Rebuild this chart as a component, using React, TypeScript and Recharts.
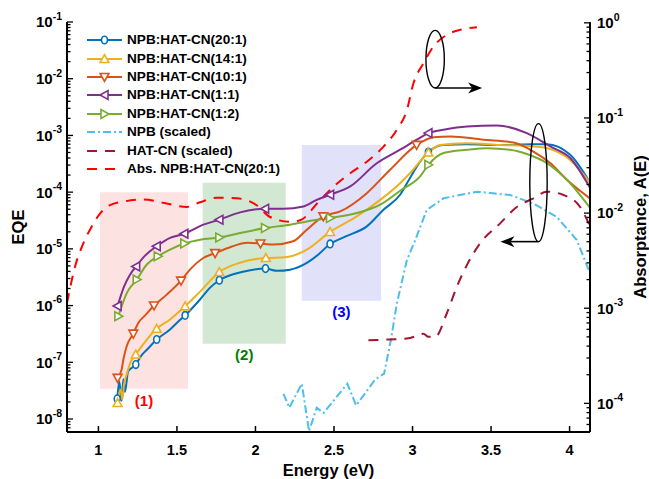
import React from "react";
import {
  LineChart,
  Line,
  XAxis,
  YAxis,
  ReferenceArea,
  ReferenceDot,
  Legend,
} from "recharts";

const FONT = "Arial, 'Liberation Sans', Helvetica, sans-serif";

// EQE vs photon energy, one set per blend ratio (energy in eV)
const e20 = [1.12, 1.133, 1.148, 1.159, 1.169, 1.189, 1.238, 1.278, 1.31, 1.371, 1.456, 1.507, 1.552, 1.647, 1.711, 1.77, 1.87, 1.966, 2.064, 2.138, 2.22, 2.327, 2.399, 2.475, 2.571, 2.709, 2.815, 2.921, 2.985, 3.048, 3.101, 3.195, 3.346, 3.558, 3.768, 3.855, 4.004, 4.131];
const q20 = [2.27e-8, 4.6e-8, 2.1e-8, 5.0e-8, 3.0e-8, 6.9e-8, 9.1e-8, 1.37e-7, 1.68e-7, 2.52e-7, 3.8e-7, 5.2e-7, 6.7e-7, 1.28e-6, 2.07e-6, 2.8e-6, 3.65e-6, 4.2e-6, 4.5e-6, 4.1e-6, 4.3e-6, 5.65e-6, 7.9e-6, 1.22e-5, 1.64e-5, 2.49e-5, 4.9e-5, 9.0e-5, 1.8e-4, 3.43e-4, 5.1e-4, 6.8e-4, 7.0e-4, 6.75e-4, 7.0e-4, 7.0e-4, 4.55e-4, 1.45e-4];
const m20 = [1.12, 1.238, 1.371, 1.552, 1.77, 2.064, 2.475, 3.101];

const e14 = [1.122, 1.142, 1.152, 1.163, 1.18, 1.201, 1.238, 1.297, 1.371, 1.456, 1.552, 1.647, 1.77, 1.902, 2.066, 2.189, 2.327, 2.475, 2.645, 2.794, 2.921, 2.985, 3.101, 3.176, 3.346, 3.558, 3.77, 3.855, 4.004, 4.131];
const q14 = [1.92e-8, 3.3e-8, 2.2e-8, 4.07e-8, 6.1e-8, 9.5e-8, 1.37e-7, 2.3e-7, 3.9e-7, 5.7e-7, 9.7e-7, 1.76e-6, 3.9e-6, 5.7e-6, 6.9e-6, 7.1e-6, 9.7e-6, 1.99e-5, 3.74e-5, 7.3e-5, 1.44e-4, 2.17e-4, 5.0e-4, 6.8e-4, 7.3e-4, 6.8e-4, 6.4e-4, 6.0e-4, 3.7e-4, 1.46e-4];
const m14 = [1.122, 1.238, 1.371, 1.552, 1.77, 2.066, 2.475, 3.101];

const e10 = [1.122, 1.148, 1.159, 1.18, 1.222, 1.254, 1.297, 1.354, 1.435, 1.526, 1.583, 1.668, 1.743, 1.838, 1.95, 2.032, 2.114, 2.24, 2.327, 2.432, 2.539, 2.709, 2.857, 3.026, 3.133, 3.239, 3.452, 3.643, 3.77, 3.877, 3.983, 4.131];
const q10 = [5.3e-8, 7.5e-8, 1.12e-7, 1.92e-7, 3.2e-7, 4.95e-7, 6.7e-7, 1.0e-6, 1.56e-6, 2.75e-6, 4.3e-6, 6.9e-6, 8.4e-6, 1.07e-5, 1.28e-5, 1.24e-5, 1.19e-5, 1.36e-5, 2.18e-5, 3.73e-5, 4.57e-5, 9.6e-5, 2.48e-4, 6.8e-4, 9.3e-4, 9.6e-4, 8.4e-4, 7.5e-4, 5.2e-4, 3.25e-4, 1.65e-4, 7.7e-5];
const m10 = [1.122, 1.222, 1.354, 1.526, 1.743, 2.032, 2.432, 3.026];

const e11 = [1.122, 1.163, 1.201, 1.24, 1.297, 1.371, 1.456, 1.547, 1.668, 1.77, 1.902, 2.061, 2.178, 2.305, 2.39, 2.475, 2.603, 2.768, 2.921, 3.027, 3.101, 3.197, 3.346, 3.537, 3.728, 3.877, 4.004, 4.131];
const q11 = [9.8e-7, 2.16e-6, 3.5e-6, 4.9e-6, 7.6e-6, 1.11e-5, 1.56e-5, 1.85e-5, 2.67e-5, 3.27e-5, 4.4e-5, 5.1e-5, 5.1e-5, 5.6e-5, 7.3e-5, 9.0e-5, 1.26e-4, 3.16e-4, 5.6e-4, 8.4e-4, 1.1e-3, 1.26e-3, 1.44e-3, 1.49e-3, 1.1e-3, 6.4e-4, 4.0e-4, 1.18e-4];
const m11 = [1.122, 1.24, 1.371, 1.547, 1.77, 2.061, 2.475, 3.101];

const e12 = [1.127, 1.182, 1.244, 1.308, 1.378, 1.456, 1.547, 1.647, 1.77, 1.902, 2.061, 2.22, 2.327, 2.475, 2.645, 2.794, 2.921, 3.048, 3.101, 3.197, 3.346, 3.473, 3.622, 3.728, 3.855, 3.983, 4.131];
const q12 = [6.5e-7, 1.69e-6, 2.87e-6, 5.3e-6, 7.4e-6, 9.7e-6, 1.24e-5, 1.45e-5, 1.59e-5, 1.9e-5, 2.33e-5, 2.67e-5, 3.05e-5, 3.5e-5, 4.28e-5, 6.0e-5, 1.06e-4, 1.89e-4, 3.03e-4, 4.9e-4, 5.6e-4, 5.97e-4, 5.6e-4, 4.7e-4, 3.25e-4, 1.65e-4, 5.25e-5];
const m12 = [1.127, 1.244, 1.378, 1.547, 1.77, 2.061, 2.475, 3.101];

// absorptance (right axis)
const eNpb = [2.178, 2.216, 2.295, 2.341, 2.39, 2.433, 2.585, 2.641, 2.762, 2.819, 2.862, 2.9, 2.964, 3.017, 3.091, 3.197, 3.41, 3.622, 3.77, 3.919, 4.046, 4.131];
const aNpb = [1.26e-4, 9.0e-5, 1.61e-4, 5.1e-5, 9.0e-5, 7.9e-5, 1.61e-4, 9.5e-5, 1.78e-4, 2.05e-4, 4.6e-4, 1.12e-3, 3.2e-3, 5.2e-3, 1.08e-2, 1.43e-2, 1.68e-2, 1.55e-2, 1.26e-2, 9.1e-3, 5.2e-3, 2.32e-3];

const eHat = [2.719, 2.857, 2.964, 3.038, 3.069, 3.101, 3.144, 3.218, 3.282, 3.346, 3.43, 3.558, 3.664, 3.77, 3.855, 3.961, 4.067, 4.131];
const aHat = [4.6e-4, 4.7e-4, 4.8e-4, 5.2e-4, 5.4e-4, 5.0e-4, 5.0e-4, 8.8e-4, 1.68e-3, 2.84e-3, 4.8e-3, 7.8e-3, 1.16e-2, 1.43e-2, 1.68e-2, 1.55e-2, 1.16e-2, 7.2e-3];

const eAbs = [0.8, 0.851, 0.904, 0.957, 1.01, 1.074, 1.159, 1.286, 1.435, 1.562, 1.647, 1.753, 1.881, 2.008, 2.093, 2.22, 2.284, 2.411, 2.496, 2.603, 2.709, 2.815, 2.9, 2.964, 3.006, 3.07, 3.133, 3.219, 3.303, 3.41];
const aAbs = [1.13e-3, 2.73e-3, 4.81e-3, 7.2e-3, 9.9e-3, 1.21e-2, 1.32e-2, 1.39e-2, 1.26e-2, 1.16e-2, 1.3e-2, 1.45e-2, 1.43e-2, 1.21e-2, 9.1e-3, 8.1e-3, 8.4e-3, 1.37e-2, 1.89e-2, 2.62e-2, 3.47e-2, 4.99e-2, 7.5e-2, 0.121, 0.232, 0.377, 0.563, 0.748, 0.844, 0.9];

const xTicks = [1, 1.5, 2, 2.5, 3, 3.5, 4];
const eqeDecades = [-9, -8, -7, -6, -5, -4, -3, -2, -1];
const absDecades = [-5, -4, -3, -2, -1, 0];

const C20 = "#0072BD";
const C14 = "#EDB120";
const C10 = "#D95319";
const C11 = "#7E2F8E";
const C12 = "#77AC30";
const CNPB = "#4DBEEE";
const CHAT = "#A2142F";
const CABS = "#FF0000";

const EQE_DOMAIN = [5.9e-9, 0.1];
const ABS_DOMAIN = [5e-5, 1.02];

function rows(e: number[], v: number[], marks: number[] = []) {
  return e.map((x, i) => ({ x, y: v[i], m: marks.includes(x) }));
}

function logTicks(decades: number[], lo: number, hi: number) {
  const out: number[] = [];
  decades.forEach((d) => {
    for (let k = 1; k <= 9; k++) {
      const v = k * Math.pow(10, d);
      if (v >= lo * 0.999 && v <= hi * 1.001) out.push(v);
    }
  });
  return out;
}

function decadeOf(v: number) {
  const l = Math.log10(v);
  return Math.abs(l - Math.round(l)) < 1e-6 ? Math.round(l) : null;
}

function Sym({ shape, cx, cy, color }: { shape: string; cx: number; cy: number; color: string }) {
  const s = 4.4;
  const common = { fill: "#fff", stroke: color, strokeWidth: 1.6 };
  if (shape === "o") return <ellipse cx={cx} cy={cy} rx={3} ry={3.8} {...common} />;
  let d = "";
  if (shape === "up") d = `M${cx},${cy - s}L${cx + s},${cy + s * 0.8}L${cx - s},${cy + s * 0.8}Z`;
  if (shape === "down") d = `M${cx},${cy + s}L${cx + s},${cy - s * 0.8}L${cx - s},${cy - s * 0.8}Z`;
  if (shape === "left") d = `M${cx - s},${cy}L${cx + s * 0.8},${cy - s}L${cx + s * 0.8},${cy + s}Z`;
  if (shape === "right") d = `M${cx + s},${cy}L${cx - s * 0.8},${cy - s}L${cx - s * 0.8},${cy + s}Z`;
  return <path d={d} {...common} />;
}

function markerDot(shape: string, color: string) {
  return (p: any) => {
    const { cx, cy, payload, index } = p;
    if (!payload || !payload.m || cx == null || cy == null) return <g key={`n${index}`} />;
    return <Sym key={`m${index}`} shape={shape} cx={cx} cy={cy} color={color} />;
  };
}

const labelText = { fontFamily: FONT, fontWeight: "bold" as const, fill: "#000" };

function BottomTick(p: any) {
  const { x, y, payload } = p;
  return (
    <g>
      <line x1={x} x2={x} y1={y} y2={y - 6} stroke="#000" strokeWidth={1.5} />
      <text x={x} y={y + 23} textAnchor="middle" fontSize={14.5} {...labelText}>
        {payload.value}
      </text>
    </g>
  );
}

function TopTick(p: any) {
  const { x, y } = p;
  return <line x1={x} x2={x} y1={y} y2={y + 6} stroke="#000" strokeWidth={1.5} />;
}

function LeftTick(p: any) {
  const { x, y, payload } = p;
  const dec = decadeOf(payload.value);
  return (
    <g>
      <line x1={x} x2={x + (dec !== null ? 6 : 3.5)} y1={y} y2={y} stroke="#000" strokeWidth={1.3} />
      {dec !== null && (
        <text x={x - 5} y={y + 5.4} textAnchor="end" fontSize={15} {...labelText}>
          <tspan>10</tspan>
          <tspan dy={-7.5} fontSize={10.5}>{`-${Math.abs(dec)}`}</tspan>
        </text>
      )}
    </g>
  );
}

function RightTick(p: any) {
  const { x, y, payload } = p;
  const dec = decadeOf(payload.value);
  return (
    <g>
      <line x1={x} x2={x - (dec !== null ? 6 : 3.5)} y1={y} y2={y} stroke="#000" strokeWidth={1.3} />
      {dec !== null && (
        <text x={x + 7} y={y + 5.4} textAnchor="start" fontSize={15} {...labelText}>
          <tspan>10</tspan>
          <tspan dy={-7.5} fontSize={10.5}>{dec === 0 ? "0" : `-${Math.abs(dec)}`}</tspan>
        </text>
      )}
    </g>
  );
}

// ellipse + arrow telling which axis a group belongs to
function AxisPointer({ cx, cy, rx, ry, dir, len }: { cx: number; cy: number; rx: number; ry: number; dir: number; len: number }) {
  const by = cy + ry;
  const tip = cx + dir * len;
  const base = tip - dir * 14;
  const notch = tip - dir * 10;
  return (
    <g>
      <ellipse cx={cx} cy={cy} rx={rx} ry={ry} fill="none" stroke="#000" strokeWidth={1.4} />
      <line x1={cx} x2={notch} y1={by} y2={by} stroke="#000" strokeWidth={1.6} />
      <path d={`M${tip},${by}L${base},${by - 5.5}L${notch},${by}L${base},${by + 5.5}Z`} fill="#000" />
    </g>
  );
}

const legendItems = [
  { name: "NPB:HAT-CN(20:1)", color: C20, shape: "o", dash: undefined },
  { name: "NPB:HAT-CN(14:1)", color: C14, shape: "up", dash: undefined },
  { name: "NPB:HAT-CN(10:1)", color: C10, shape: "down", dash: undefined },
  { name: "NPB:HAT-CN(1:1)", color: C11, shape: "left", dash: undefined },
  { name: "NPB:HAT-CN(1:2)", color: C12, shape: "right", dash: undefined },
  { name: "NPB (scaled)", color: CNPB, shape: "", dash: "8 3 2 3" },
  { name: "HAT-CN (scaled)", color: CHAT, shape: "", dash: "10 8" },
  { name: "Abs. NPB:HAT-CN(20:1)", color: CABS, shape: "", dash: "10 8" },
];

function LegendBox() {
  return (
    <div style={{ fontFamily: FONT, fontWeight: "bold", fontSize: 13.6, color: "#000" }}>
      {legendItems.map((it) => (
        <div key={it.name} style={{ display: "flex", alignItems: "center", height: 18.43 }}>
          <svg width={37} height={14} style={{ display: "block" }}>
            <line x1={1} x2={36} y1={7} y2={7} stroke={it.color} strokeWidth={2} strokeDasharray={it.dash} />
            {it.shape && <Sym shape={it.shape} cx={18.5} cy={7} color={it.color} />}
          </svg>
          <span style={{ marginLeft: 4, whiteSpace: "nowrap", lineHeight: "18px" }}>{it.name}</span>
        </div>
      ))}
    </div>
  );
}

const eqeSeries = [
  { key: "20", data: rows(e20, q20, m20), color: C20, shape: "o" },
  { key: "14", data: rows(e14, q14, m14), color: C14, shape: "up" },
  { key: "10", data: rows(e10, q10, m10), color: C10, shape: "down" },
  { key: "11", data: rows(e11, q11, m11), color: C11, shape: "left" },
  { key: "12", data: rows(e12, q12, m12), color: C12, shape: "right" },
];

export default function App() {
  const eqeTicks = logTicks(eqeDecades, EQE_DOMAIN[0], EQE_DOMAIN[1]);
  const absTicks = logTicks(absDecades, ABS_DOMAIN[0], ABS_DOMAIN[1]);
  const areaLabel = (value: string, fill: string) => ({
    value,
    position: "bottom" as const,
    offset: 6,
    fill,
    fontSize: 15,
    fontWeight: "bold",
    fontFamily: FONT,
  });

  return (
    <div style={{ position: "absolute", left: 0, top: 0, background: "#fff" }}>
      <LineChart width={649} height={479} margin={{ top: 22, right: 0, bottom: 0, left: 0 }}>
        <XAxis
          xAxisId="b"
          type="number"
          dataKey="x"
          domain={[0.8, 4.13]}
          allowDataOverflow
          ticks={xTicks}
          interval={0}
          height={47}
          tickSize={0}
          tickMargin={0}
          tickLine={false}
          tick={BottomTick}
          axisLine={{ stroke: "#000", strokeWidth: 2 }}
          label={{ value: "Energy (eV)", position: "insideBottom", offset: 3, fontSize: 16.5, fontWeight: "bold", fill: "#000", fontFamily: FONT }}
        />
        <XAxis
          xAxisId="t"
          orientation="top"
          type="number"
          dataKey="x"
          domain={[0.8, 4.13]}
          allowDataOverflow
          ticks={xTicks}
          interval={0}
          height={0}
          tickSize={0}
          tickMargin={0}
          tickLine={false}
          tick={TopTick}
          axisLine={{ stroke: "#000", strokeWidth: 2 }}
        />
        <YAxis
          yAxisId="l"
          scale="log"
          type="number"
          domain={EQE_DOMAIN}
          allowDataOverflow
          ticks={eqeTicks}
          interval={0}
          width={67}
          tickSize={0}
          tickMargin={0}
          tickLine={false}
          tick={LeftTick}
          axisLine={{ stroke: "#000", strokeWidth: 2 }}
          label={{ value: "EQE", angle: -90, position: "insideLeft", offset: 18, fontSize: 16.5, fontWeight: "bold", fill: "#000", fontFamily: FONT, style: { textAnchor: "middle" } }}
        />
        <YAxis
          yAxisId="r"
          orientation="right"
          scale="log"
          type="number"
          domain={ABS_DOMAIN}
          allowDataOverflow
          ticks={absTicks}
          interval={0}
          width={59}
          tickSize={0}
          tickMargin={0}
          tickLine={false}
          tick={RightTick}
          axisLine={{ stroke: "#000", strokeWidth: 2 }}
          label={{ value: "Absorptance, A(E)", angle: -90, position: "insideRight", offset: 9, fontSize: 16.5, fontWeight: "bold", fill: "#000", fontFamily: FONT, style: { textAnchor: "middle" } }}
        />

        <ReferenceArea xAxisId="b" yAxisId="l" x1={1.01} x2={1.571} y1={3.4e-8} y2={1e-4} fill="#FDE2E2" fillOpacity={1} stroke="none" label={areaLabel("(1)", "#FF0000")} />
        <ReferenceArea xAxisId="b" yAxisId="l" x1={1.664} x2={2.193} y1={2.12e-7} y2={1.46e-4} fill="#D3E8D2" fillOpacity={1} stroke="none" label={areaLabel("(2)", "#008000")} />
        <ReferenceArea xAxisId="b" yAxisId="l" x1={2.295} x2={2.8} y1={1.22e-6} y2={6.8e-4} fill="#E1E1FA" fillOpacity={1} stroke="none" label={areaLabel("(3)", "#0000FF")} />

        <Line xAxisId="b" yAxisId="r" data={rows(eNpb, aNpb)} dataKey="y" type="linear" stroke={CNPB} strokeWidth={2} strokeDasharray="8 3 2 3" dot={false} isAnimationActive={false} />
        <Line xAxisId="b" yAxisId="r" data={rows(eHat, aHat)} dataKey="y" type="monotone" stroke={CHAT} strokeWidth={2} strokeDasharray="10 8" dot={false} isAnimationActive={false} />
        <Line xAxisId="b" yAxisId="r" data={rows(eAbs, aAbs)} dataKey="y" type="monotone" stroke={CABS} strokeWidth={2} strokeDasharray="10 8" dot={false} isAnimationActive={false} />

        {eqeSeries.map((s) => (
          <Line
            key={s.key}
            xAxisId="b"
            yAxisId="l"
            data={s.data}
            dataKey="y"
            type="monotone"
            stroke={s.color}
            strokeWidth={2}
            dot={markerDot(s.shape, s.color)}
            activeDot={false}
            isAnimationActive={false}
          />
        ))}

        <ReferenceDot xAxisId="b" yAxisId="r" x={3.144} y={0.415} r={0} shape={(p: any) => <AxisPointer cx={p.cx} cy={p.cy} rx={9.2} ry={28.8} dir={1} len={47} />} />
        <ReferenceDot xAxisId="b" yAxisId="r" x={3.802} y={0.0209} r={0} shape={(p: any) => <AxisPointer cx={p.cx} cy={p.cy} rx={8.7} ry={59} dir={-1} len={38} />} />

        <Legend
          layout="vertical"
          align="center"
          verticalAlign="middle"
          content={() => <LegendBox />}
          wrapperStyle={{ left: 86, top: 31, width: 220, height: 150 }}
        />
      </LineChart>
    </div>
  );
}
